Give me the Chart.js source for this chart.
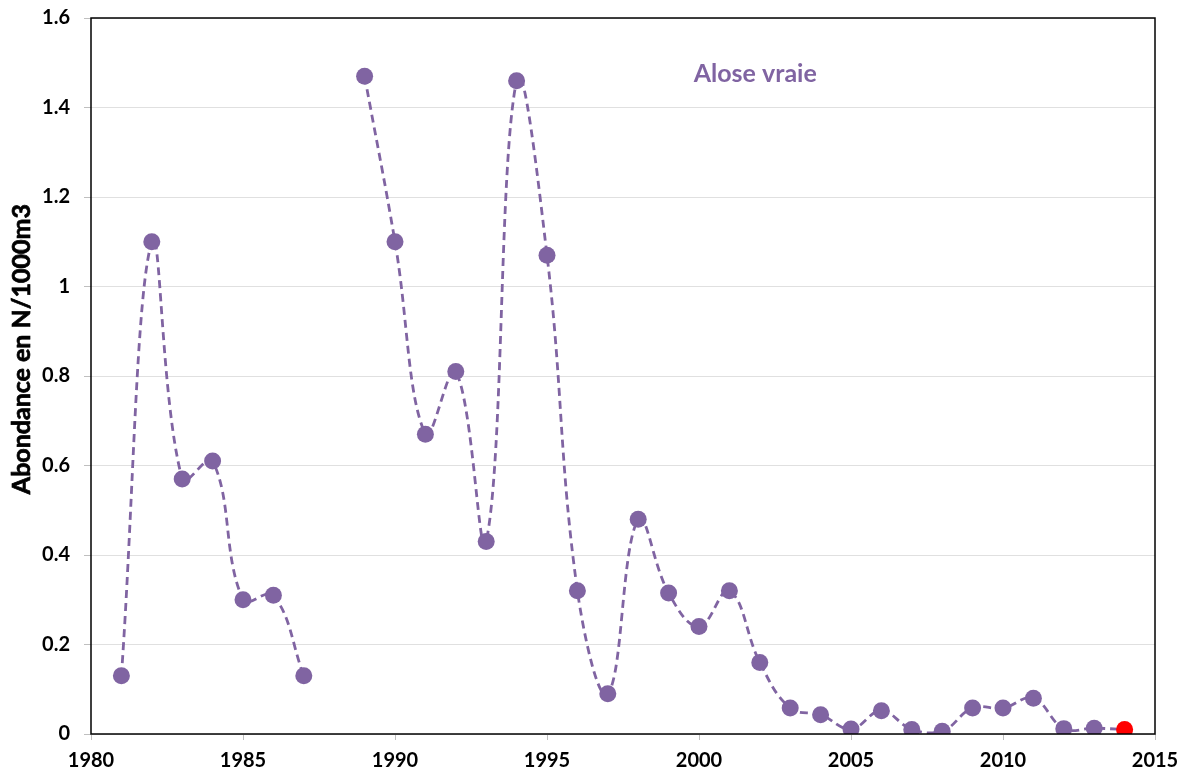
<!DOCTYPE html>
<html>
<head>
<meta charset="utf-8">
<title>Alose vraie</title>
<script src="https://cdn.jsdelivr.net/npm/chart.js@4/dist/chart.umd.min.js"></script>
<style>
    html, body { margin: 0; padding: 0; background: #ffffff; }
    #wrap { width: 1185px; height: 774px; position: relative; }
</style>
</head>
<body>
<div id="wrap"><canvas id="aloseChart"></canvas></div>
<script>
// Abundance of Alose vraie per year (N/1000m3); null = no sampling
const years = [1981, 1982, 1983, 1984, 1985, 1986, 1987, 1988, 1989, 1990,
    1991, 1992, 1993, 1994, 1995, 1996, 1997, 1998, 1999, 2000,
    2001, 2002, 2003, 2004, 2005, 2006, 2007, 2008, 2009, 2010,
    2011, 2012, 2013, 2014];
const abundance = [0.13, 1.10, 0.57, 0.61, 0.30, 0.31, 0.13, null, 1.47, 1.10,
    0.67, 0.81, 0.43, 1.46, 1.07, 0.32, 0.09, 0.48, 0.315, 0.24,
    0.32, 0.16, 0.058, 0.043, 0.011, 0.052, 0.01, 0.006, 0.058, 0.058,
    0.08, 0.012, 0.013, 0.01];
const xTicks = [1980, 1985, 1990, 1995, 2000, 2005, 2010, 2015];
const yTicks = [0, 0.2, 0.4, 0.6, 0.8, 1, 1.2, 1.4, 1.6];
const seriesName = 'Alose vraie';
const yTitle = 'Abondance en N/1000m3';

const purple = '#8064a2';
const fontFamily = 'Lato, "Open Sans", sans-serif';

// frame around the plot, y title and series label
const frameAndLabel = {
    id: 'frameAndLabel',
    afterDraw(chart) {
        const ctx = chart.ctx;
        const a = chart.chartArea;
        ctx.save();
        ctx.strokeStyle = '#000000';
        ctx.lineWidth = 1.5;
        ctx.strokeRect(a.left, a.top, a.right - a.left, a.bottom - a.top);

        ctx.fillStyle = purple;
        ctx.font = 'bold 25px ' + fontFamily;
        ctx.textAlign = 'center';
        ctx.textBaseline = 'middle';
        ctx.fillText(seriesName, chart.scales.x.getPixelForValue(2001.85), chart.scales.y.getPixelForValue(1.475));

        // y axis title (slight stroke to make it as heavy as the original)
        ctx.fillStyle = '#000000';
        ctx.strokeStyle = '#000000';
        ctx.lineWidth = 0.7;
        ctx.font = 'bold 25px ' + fontFamily;
        ctx.translate(22, chart.scales.y.getPixelForValue(0.86));
        ctx.rotate(-Math.PI / 2);
        ctx.fillText(yTitle, 0, 0);
        ctx.strokeText(yTitle, 0, 0);
        ctx.restore();
    }
};

document.addEventListener('DOMContentLoaded', function() {
    const ctx = document.getElementById('aloseChart');
    const lastIdx = years.length - 1;

    new Chart(ctx, {
        type: 'line',
        data: {
            datasets: [{
                label: seriesName,
                data: years.map((yr, i) => ({ x: yr, y: abundance[i] })),
                borderColor: purple,
                borderWidth: 2.8,
                borderDash: [8, 5],
                tension: 0.4,
                spanGaps: false,
                pointRadius: 8.5,
                pointBorderWidth: 0,
                pointBackgroundColor: years.map((yr, i) => i === lastIdx ? '#ff0000' : purple),
                pointBorderColor: years.map((yr, i) => i === lastIdx ? '#ff0000' : purple)
            }]
        },
        options: {
            responsive: true,
            maintainAspectRatio: false,
            animation: false,
            layout: { padding: { top: 18, right: 30, left: 0, bottom: 0 } },
            plugins: {
                legend: { display: false },
                tooltip: { enabled: false }
            },
            scales: {
                x: {
                    type: 'linear',
                    min: 1980,
                    max: 2015,
                    afterFit: function(scale) {
                        scale.height = 40;
                        scale.paddingLeft = 0;
                        scale.paddingRight = 0;
                    },
                    afterBuildTicks: function(scale) {
                        scale.ticks = xTicks.map(v => ({ value: v }));
                    },
                    grid: {
                        drawOnChartArea: false,
                        drawTicks: true,
                        tickLength: 6,
                        color: '#bfbfbf'
                    },
                    border: { display: false },
                    ticks: {
                        color: '#000000',
                        padding: 9,
                        maxRotation: 0,
                        font: { family: fontFamily, size: 20, weight: 'bold' },
                        callback: function(value) { return String(value); }
                    }
                },
                y: {
                    min: 0,
                    max: 1.6,
                    afterFit: function(scale) {
                        scale.width = 91;
                        scale.paddingTop = 0;
                        scale.paddingBottom = 0;
                    },
                    afterBuildTicks: function(scale) {
                        scale.ticks = yTicks.map(v => ({ value: v }));
                    },
                    grid: {
                        color: '#e0e0e0',
                        tickColor: '#bfbfbf',
                        tickLength: 7
                    },
                    border: { display: false },
                    ticks: {
                        color: '#000000',
                        padding: 14,
                        font: { family: fontFamily, size: 20, weight: 'bold' },
                        callback: function(value) { return String(value); }
                    }
                }
            }
        },
        plugins: [frameAndLabel]
    });
});
</script>
</body>
</html>
